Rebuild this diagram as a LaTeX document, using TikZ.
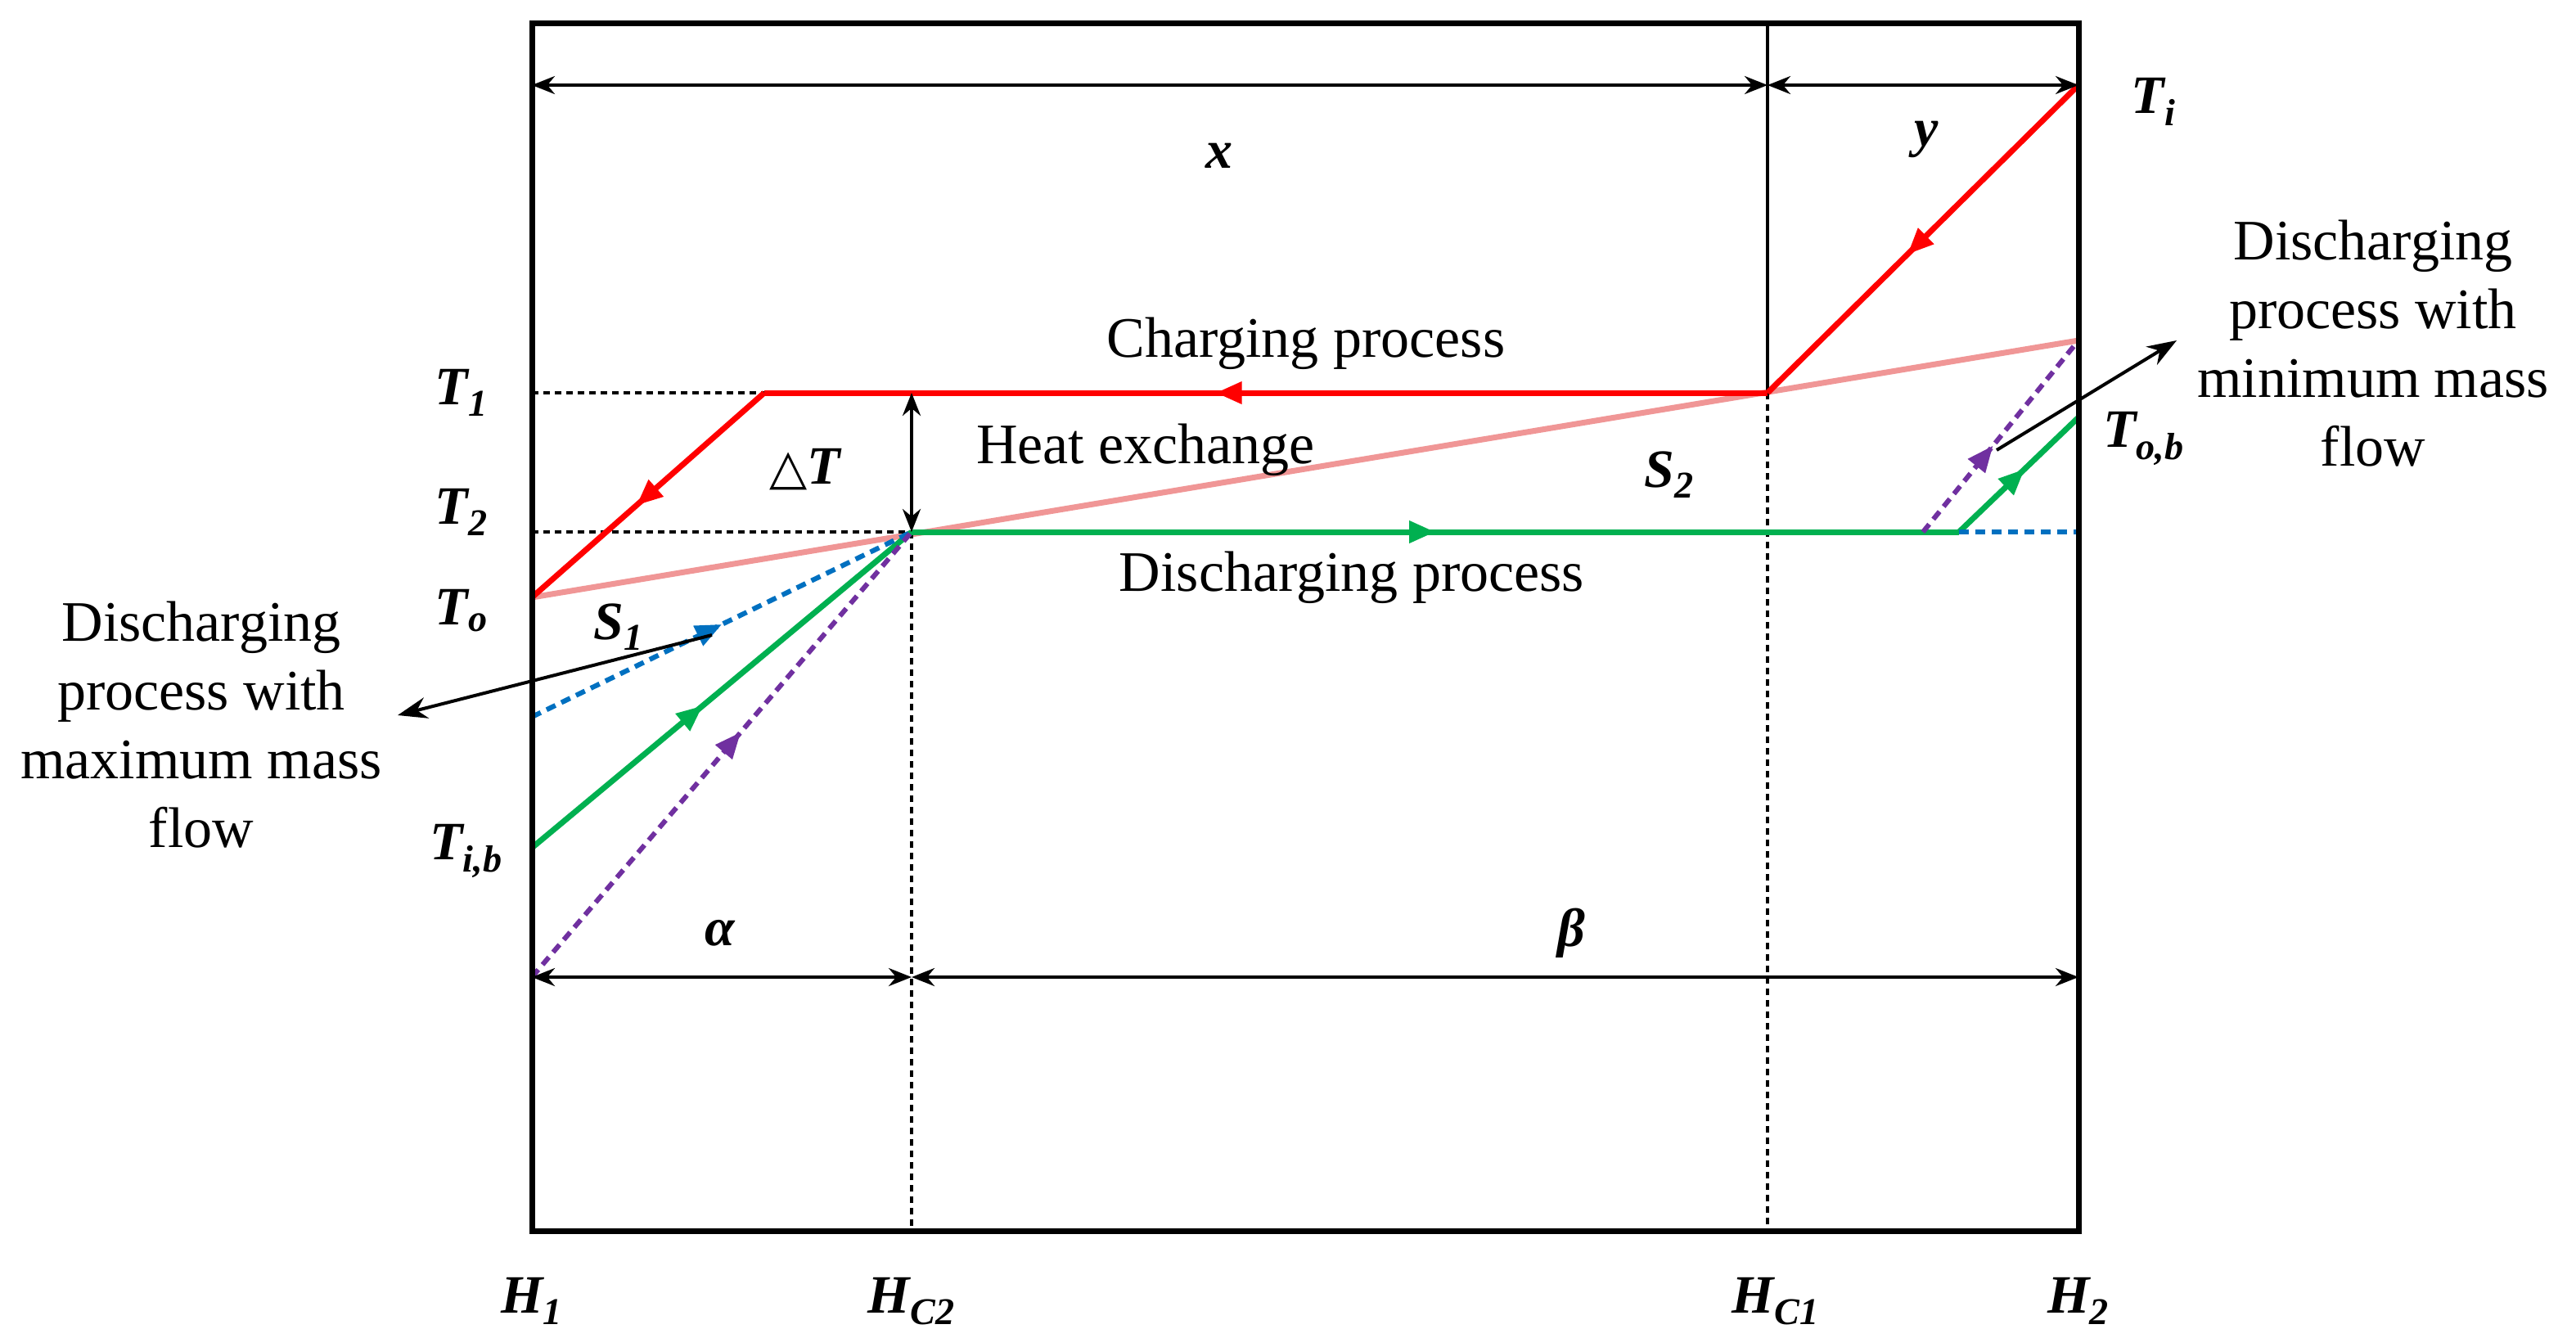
\documentclass[tikz,border=0pt]{standalone}
\usepackage{fontspec}
\setmainfont{Liberation Serif}
\newfontfamily\symfont{DejaVu Sans}
\usetikzlibrary{arrows.meta,decorations.markings}
\definecolor{gr}{RGB}{0,176,80}
\definecolor{bl}{RGB}{0,112,192}
\definecolor{pu}{RGB}{112,48,160}
\definecolor{pk}{RGB}{240,150,150}
\begin{document}
\begin{tikzpicture}[x=1pt,y=-1pt,
  lbl/.style={font=\fontsize{33}{36}\selectfont\bfseries\itshape},
  txt/.style={font=\fontsize{35}{42}\selectfont,align=center},
  midarr/.style={postaction={decorate},decoration={markings,mark=at position #1 with {\arrow{Triangle[length=16pt,width=13pt]}}}},
  cr/.style={draw=red,line width=3.5pt},
  cg/.style={draw=gr,line width=3.5pt},
  cb/.style={draw=bl,line width=3pt,dash pattern=on 6pt off 4pt},
  cp/.style={draw=pu,line width=3pt,dash pattern=on 6pt off 4pt},
  dots/.style={draw=black,line width=1.8pt,dash pattern=on 4pt off 3pt},
  dim/.style={draw=black,line width=2pt,{Stealth[length=14pt,width=11pt]}-{Stealth[length=14pt,width=11pt]}},
  ann/.style={draw=black,line width=2pt,-{Stealth[length=18pt,width=13pt]}}]
\useasboundingbox (0,0) rectangle (1574,817);
\coordinate (TL) at (325,14); \coordinate (BR) at (1270,752);
\coordinate (Ti) at (1270,52); \coordinate (C1) at (1080,240);
\coordinate (A) at (467,240); \coordinate (To) at (325,365);
\coordinate (T1l) at (325,240); \coordinate (T2l) at (325,325);
\coordinate (P) at (557,325); \coordinate (G2) at (1197,325);
\coordinate (G3) at (1270,255); \coordinate (PK) at (1270,208);
\coordinate (Q) at (1175,325); \coordinate (BE) at (1270,325);
\coordinate (Tib) at (325,518); \coordinate (Bl) at (325,438);
\coordinate (Pu) at (325,597);
\draw[line width=3.5pt,draw=pk] (To) -- (PK);
\draw[dots] (T1l) -- (A); \draw[dots] (T2l) -- (P);
\draw[dots] (P) -- (557,752); \draw[dots] (C1) -- (1080,752);
\draw[line width=2pt] (1080,14) -- (C1);
\draw[cr,midarr=0.55] (Ti) -- (C1);
\draw[cr,midarr=0.55] (C1) -- (A);
\draw[cr,midarr=0.55] (A) -- (To);
\draw[cg,midarr=0.5] (P) -- (G2);
\draw[cg,midarr=0.55] (G2) -- (G3);
\draw[cg,midarr=0.45] (Tib) -- (P);
\draw[cb,midarr=0.5] (Bl) -- (P);
\draw[cb] (G2) -- (BE);
\draw[cp,midarr=0.55] (Pu) -- (P);
\draw[cp,midarr=0.45] (Q) -- (PK);
\draw[line width=3.5pt] (TL) rectangle (BR);
\draw[dim] (325,52) -- (1080,52);
\draw[dim] (1080,52) -- (1270,52);
\draw[dim] (325,597) -- (557,597);
\draw[dim] (557,597) -- (1270,597);
\draw[dim] (557,240) -- (557,325);
\draw[ann] (435,388) -- (243,437);
\draw[ann] (1220,275) -- (1330,208);
\node[lbl] (lx) at (745,95) {x};
\node[lbl] (ly) at (1177,85) {y};
\node[lbl] (lTi) at (1316,62) {T\textsubscript{i}};
\node[lbl] (lT1) at (282,240) {T\textsubscript{1}};
\node[lbl] (lT2) at (282,313) {T\textsubscript{2}};
\node[lbl] (lTo) at (282,373) {T\textsubscript{o}};
\node[lbl] (lTib) at (285,520) {T\textsubscript{i,b}};
\node[lbl] (lTob) at (1310,268) {T\textsubscript{o,b}};
\node[lbl] (lS1) at (378,383) {S\textsubscript{1}};
\node[lbl] (lS2) at (1020,290) {S\textsubscript{2}};
\node[lbl] (ldT) at (492,287) {{\symfont\fontsize{30}{34}\selectfont △}T};
\node[lbl] (la) at (440,570) {α};
\node[lbl] (lb) at (960,570) {β};
\node[lbl] (h1) at (325,795) {H\textsubscript{1}};
\node[lbl] (h2) at (557,795) {H\textsubscript{C2}};
\node[lbl] (h3) at (1085,795) {H\textsubscript{C1}};
\node[lbl] (h4) at (1270,795) {H\textsubscript{2}};
\node[txt] (tc) at (798,210) {Charging process};
\node[txt] (th) at (700,275) {Heat exchange};
\node[txt] (td) at (826,353) {Discharging process};
\node[txt] (tl) at (123,443) {Discharging\\process with\\maximum mass\\flow};
\node[txt] (tr) at (1450,210) {Discharging\\process with\\minimum mass\\flow};
\end{tikzpicture}
\end{document}
